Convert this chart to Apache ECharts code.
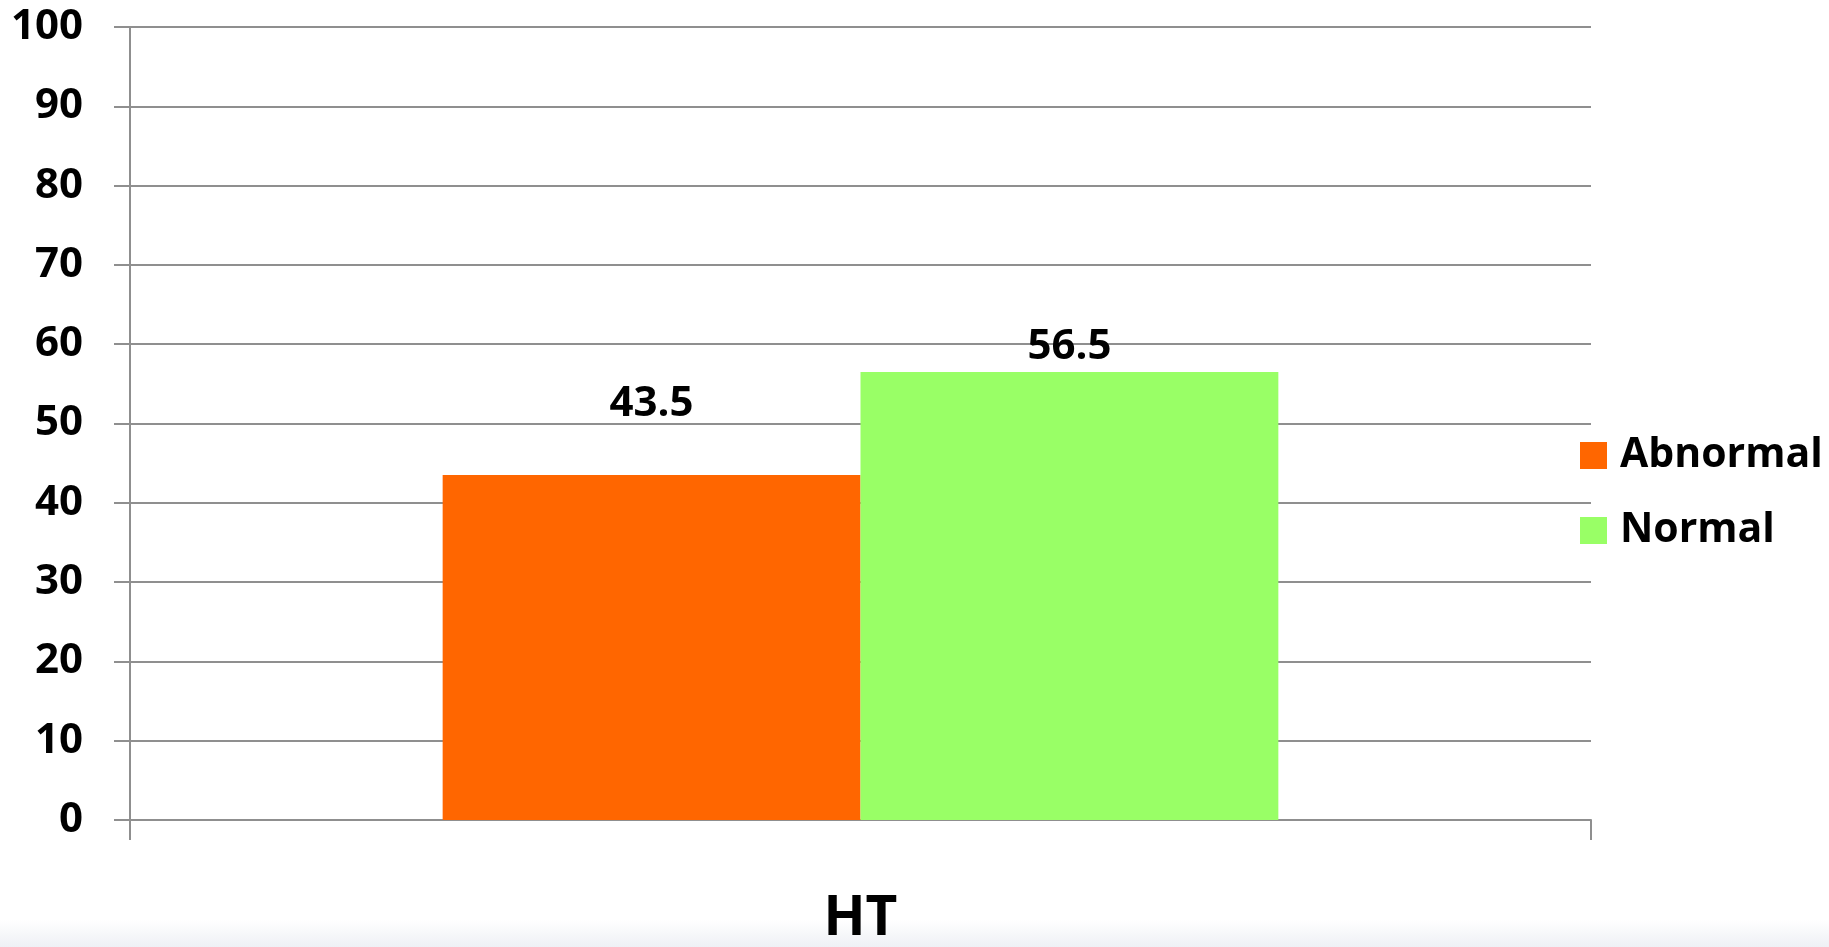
<!DOCTYPE html>
<html>
<head>
<meta charset="utf-8">
<script src="https://cdn.jsdelivr.net/npm/echarts@6/dist/echarts.min.js"></script>
<style>
html,body{margin:0;padding:0;background:#fff;}
#c{width:1829px;height:947px;}
</style>
</head>
<body>
<div id="c"></div>
<script>
const categories = ['HT'];
const abnormal = [43.5];
const normal = [56.5];
const seriesNames = ['Abnormal', 'Normal'];
const yTicks = {min: 0, max: 100, interval: 10};

const FONT = '"Open Sans", "Noto Sans", sans-serif';
const lineColor = '#8f8f8f';

const chart = echarts.init(document.getElementById('c'), null, {renderer: 'canvas'});
chart.setOption({
  animation: false,
  backgroundColor: '#ffffff',
  graphic: [{
    type: 'rect',
    left: 0, top: 920, z: -10,
    shape: {width: 1829, height: 27},
    style: {fill: new echarts.graphic.LinearGradient(0, 0, 0, 1, [
      {offset: 0, color: '#ffffff'}, {offset: 1, color: '#eef0f5'}])}
  }],
  grid: {left: 130, right: 238, top: 27, bottom: 124, containLabel: false},
  legend: {
    orient: 'vertical',
    left: 1580, top: 435,
    padding: 0,
    itemWidth: 27, itemHeight: 27, itemGap: 34,
    icon: 'rect',
    data: seriesNames,
    textStyle: {fontFamily: FONT, fontWeight: 'bold', fontSize: 41, color: '#000', lineHeight: 40, padding: [0, 0, 0, 8]}
  },
  xAxis: {
    type: 'category',
    data: categories,
    axisLine: {show: true, lineStyle: {color: lineColor, width: 2}},
    axisTick: {show: true, length: 20, lineStyle: {color: lineColor, width: 2}},
    axisLabel: {fontFamily: FONT, fontWeight: 'bold', fontSize: 55, color: '#000', margin: 72}
  },
  yAxis: {
    type: 'value',
    min: yTicks.min, max: yTicks.max, interval: yTicks.interval,
    axisLine: {show: true, lineStyle: {color: lineColor, width: 2}},
    axisTick: {show: true, length: 16, lineStyle: {color: lineColor, width: 2}},
    splitLine: {show: true, lineStyle: {color: lineColor, width: 2}},
    axisLabel: {fontFamily: FONT, fontWeight: 'bold', fontSize: 42, color: '#000', margin: 47}
  },
  series: [
    {
      name: seriesNames[0], type: 'bar', data: abnormal,
      barGap: '0%', barCategoryGap: '42.8%',
      itemStyle: {color: '#FF6600'},
      label: {show: true, position: 'top', distance: 50, fontFamily: FONT, fontWeight: 'bold', fontSize: 42, color: '#000'},
      z: 3
    },
    {
      name: seriesNames[1], type: 'bar', data: normal,
      barGap: '0%', barCategoryGap: '42.8%',
      itemStyle: {color: '#99FF66'},
      label: {show: true, position: 'top', distance: 4, fontFamily: FONT, fontWeight: 'bold', fontSize: 42, color: '#000'},
      z: 3
    }
  ]
});
</script>
</body>
</html>
